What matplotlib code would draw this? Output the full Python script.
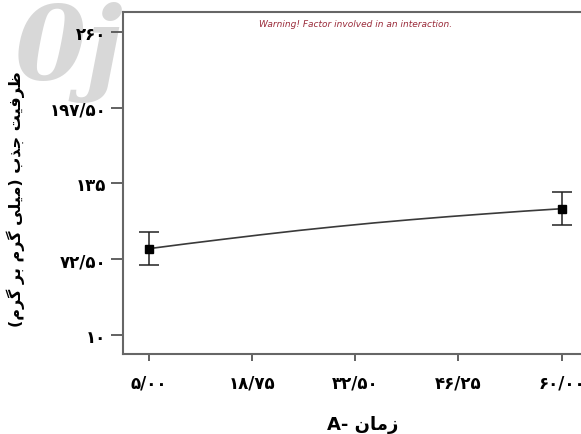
import matplotlib
matplotlib.use("Agg")
import matplotlib.pyplot as plt

plt.rcParams['font.family'] = ['DejaVu Sans']

# factor A (time) and the predicted response
x_ticks = [5.0, 18.75, 32.5, 46.25, 60.0]
x_ticklabels = ["۵/۰۰", "۱۸/۷۵", "۳۲/۵۰", "۴۶/۲۵", "۶۰/۰۰"]
y_ticks = [10, 72.5, 135, 197.5, 260]
y_ticklabels = ["۱۰", "۷۲/۵۰", "۱۳۵", "۱۹۷/۵۰", "۲۶۰"]

point_x = [5.0, 60.0]
point_y = [81.3, 114.2]
point_err = [13.7, 13.6]

curve_x = [5, 10, 15, 20, 25, 30, 35, 40, 45, 50, 55, 60]
curve_y = [81.3, 85.3, 89.1, 92.8, 96.3, 99.5, 102.5, 105.2, 107.7, 110.0, 112.2, 114.2]

# persian text written in visual order with presentation forms
# (matplotlib does no arabic shaping)
ylabel = ("(\uFEE1\uFEAE\uFB94 \uFEAE\uFE91 \uFEE1\uFEAE\uFB94 \uFEF0\uFEE0\uFEF4\uFEE3) "
          "\uFE8F\uFEAC\uFE9F \uFE96\uFEF4\uFED3\uFEAE\uFEC7")
xlabel = "A- \uFEE5\uFE8E\uFEE3\uFEAF"
warning = "Warning! Factor involved in an interaction."

fig = plt.figure(figsize=(5.81, 4.35), dpi=100)

# faint watermark in the top left corner, behind everything
fig.text(0.025, 0.815, "0j", fontsize=74, fontweight="bold", fontstyle="italic",
         family="DejaVu Serif", color="#d8d8d8", zorder=-5)

ax = fig.add_axes([0.2117, 0.1839, 0.8, 0.7862])
ax.set_facecolor("none")

ax.plot(curve_x, curve_y, color="#3a3a3a", lw=1.2, zorder=2)
ax.errorbar(point_x, point_y, yerr=point_err, fmt="s", color="black",
            ecolor="#222222", elinewidth=1.1, capsize=7, capthick=1.1,
            markersize=6, zorder=3)

ax.set_xlim(1.5, 63.5)
ax.set_ylim(-5.6, 276.4)

ax.set_xticks(x_ticks)
ax.set_xticklabels(x_ticklabels, fontsize=12, fontweight="bold")
ax.set_yticks(y_ticks)
ax.set_yticklabels(y_ticklabels, fontsize=12, fontweight="bold")

ax.tick_params(axis="x", length=5, width=1.3, color="#555555", pad=9)
ax.tick_params(axis="y", length=9, width=1.3, color="#555555", pad=3)

for side in ["left", "bottom", "top", "right"]:
    ax.spines[side].set_color("#666666")
    ax.spines[side].set_linewidth(1.5)

ax.set_ylabel(ylabel, fontsize=11.5, fontweight="bold")
ax.yaxis.set_label_coords(-0.211, 0.455)
ax.set_xlabel(xlabel, fontsize=13, fontweight="bold")
ax.xaxis.set_label_coords(0.516, -0.178)

ax.text(0.5, 0.965, warning, transform=ax.transAxes, fontsize=6.5,
        fontstyle="italic", color="#9a2b3a", ha="center", va="center")

fig.savefig("out.png", dpi=100)
